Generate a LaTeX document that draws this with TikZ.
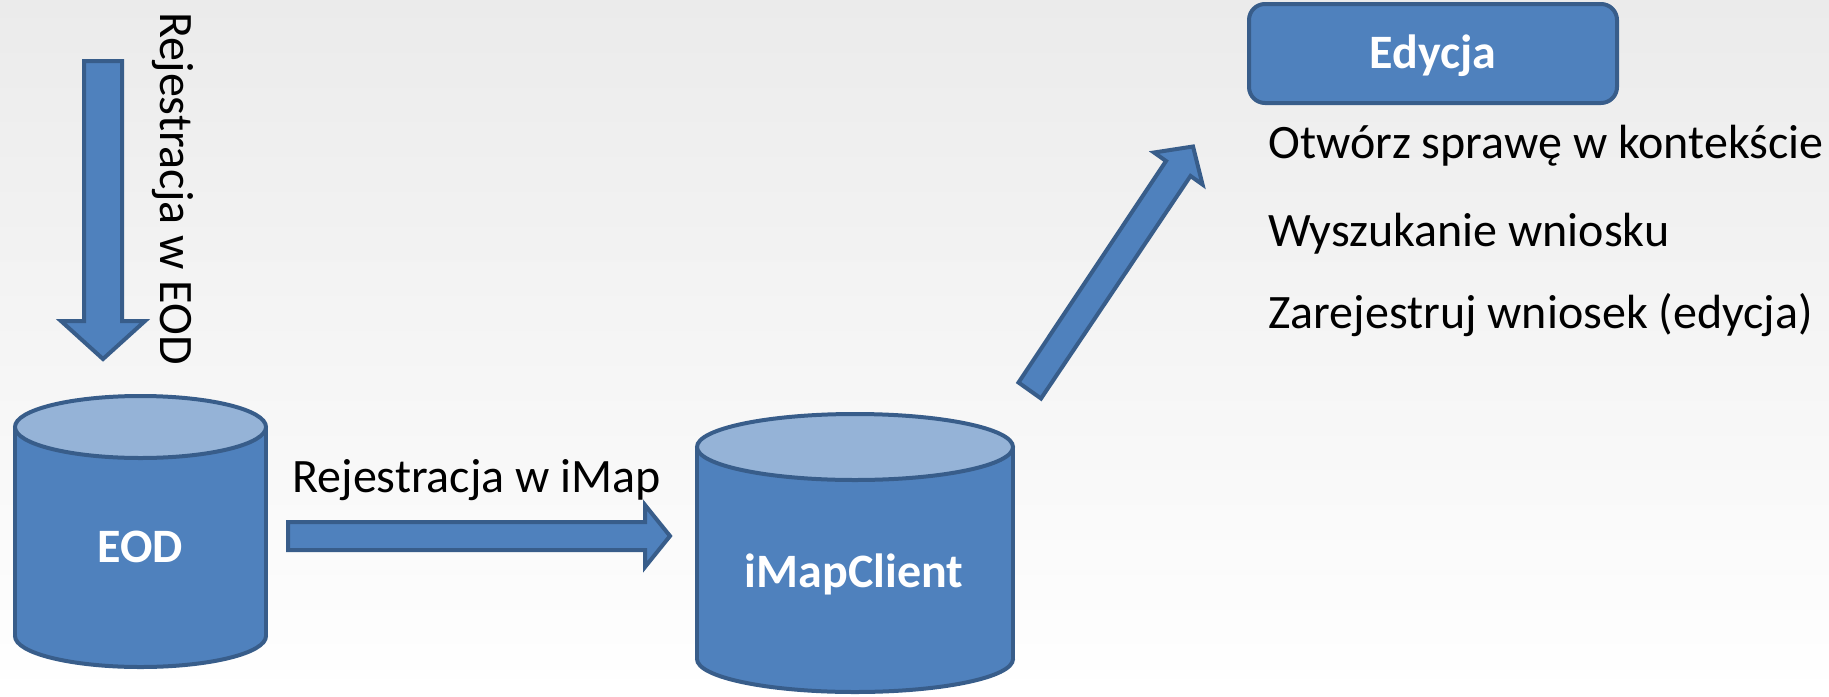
\documentclass[tikz,border=0pt]{standalone}
\usepackage{fontspec}
\setmainfont{Carlito}
\definecolor{fillblue}{HTML}{4F81BD}
\definecolor{edgeblue}{HTML}{385D8A}
\definecolor{topblue}{HTML}{95B3D7}
\definecolor{bgtop}{HTML}{EBEBEB}
\tikzset{
  edgeline/.style={draw=edgeblue, line width=2pt},
  blockarrow/.style={fill=fillblue, draw=edgeblue, line width=2pt, line join=miter},
  lbl/.style={inner sep=0pt, font=\fontsize{24}{29}\selectfont},
  whitelbl/.style={inner sep=0pt, font=\fontsize{24}{29}\selectfont\bfseries, text=white},
}
\newcommand{\dbcyl}[5]{%
  \fill[fillblue] ({#1-#2},#3) rectangle ({#1+#2},#4);
  \fill[fillblue] (#1,#4) ellipse [x radius=#2, y radius=#5];
  \draw[edgeline] ({#1-#2},#3) -- ({#1-#2},#4);
  \draw[edgeline] ({#1+#2},#3) -- ({#1+#2},#4);
  \begin{scope}
    \clip ({#1-#2-10},#4) rectangle ({#1+#2+10},{#4+#5+10});
    \draw[edgeline] (#1,#4) ellipse [x radius=#2, y radius=#5];
  \end{scope}
  \draw[edgeline, fill=topblue] (#1,#3) ellipse [x radius=#2, y radius=#5];
}
\begin{document}
\begin{tikzpicture}[x=0.5pt, y=-0.5pt]
  \useasboundingbox (0,0) rectangle (1829,696);
  \shade[top color=bgtop, bottom color=white] (0,0) rectangle (1829,696);

  % vertical arrow into EOD
  \draw[blockarrow] (84,61) -- (122,61) -- (122,321) -- (145,321) -- (103,359) -- (61,321) -- (84,321) -- cycle;
  \node[lbl, rotate=-90, anchor=base west] (lblEOD) at (160,12) {Rejestracja w EOD};

  % EOD cylinder
  \dbcyl{140.5}{125.5}{427}{636}{31}
  \node[whitelbl, anchor=base] (eod) at (140.5,562) {EOD};

  % horizontal arrow
  \draw[blockarrow] (288,522) -- (645,522) -- (645,505) -- (670,536) -- (645,567) -- (645,550) -- (288,550) -- cycle;
  \node[lbl, anchor=base west] (lblImap) at (292,492) {Rejestracja w iMap};

  % iMapClient cylinder
  \dbcyl{855}{158}{447}{659}{33}
  \node[whitelbl, anchor=base] (imap) at (854,587) {iMapClient};

  % diagonal arrow
  \draw[blockarrow] (1018.5,382.5) -- (1166,161) -- (1154,152.5) -- (1193,146.5) -- (1202.5,184.5) -- (1190.5,176) -- (1041,398.5) -- cycle;

  % Edycja box
  \draw[blockarrow, rounded corners=8pt] (1249,4) rectangle (1617,103);
  \node[whitelbl, anchor=base] (edycja) at (1433,68) {Edycja};

  \node[lbl, anchor=base west] (t1) at (1268,158) {Otwórz sprawę w kontekście};
  \node[lbl, anchor=base west] (t2) at (1268,246) {Wyszukanie wniosku};
  \node[lbl, anchor=base west] (t3) at (1268,328) {Zarejestruj wniosek (edycja)};
\end{tikzpicture}
\end{document}
